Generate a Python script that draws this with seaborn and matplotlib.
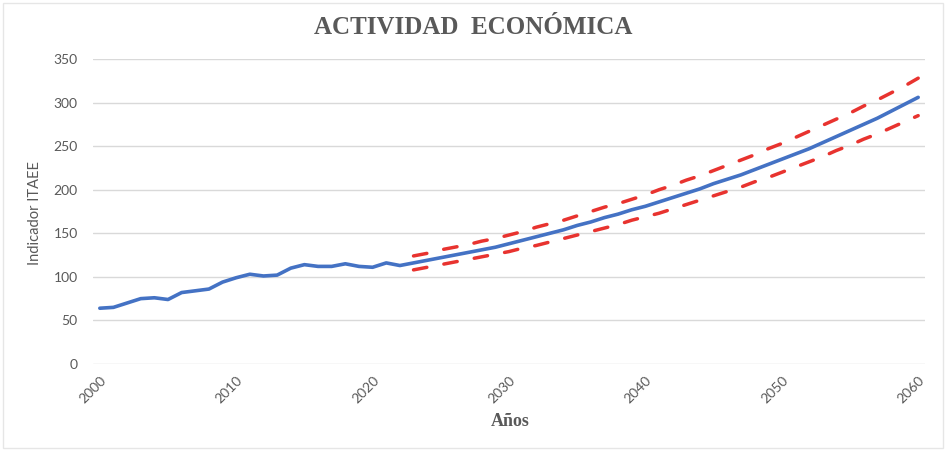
import seaborn as sns
import matplotlib.pyplot as plt
import pandas as pd
from matplotlib.patches import Rectangle

# ITAEE activity index: observed + projection, with upper/lower bands
years = list(range(2000, 2061))
itaee = [64, 65, 70, 75, 76, 74, 82, 84, 86, 94, 99, 103, 101, 102, 110, 114,
         112, 112, 115, 112, 111, 116, 113,
         116, 119, 122, 125, 128, 131, 134, 138, 142, 146, 150, 154, 159, 163,
         168, 172, 177, 181, 186, 191, 196, 201, 207, 212, 217, 223, 229, 235,
         241, 247, 254, 261, 268, 275, 282, 290, 298, 306]

band_years = list(range(2023, 2061))
upper = [124, 127, 131, 134, 137, 141, 144, 148, 152, 157, 161, 165, 170, 175,
         180, 184, 189, 194, 200, 205, 211, 216, 222, 228, 234, 240, 247, 253,
         260, 267, 274, 281, 288, 296, 303, 311, 319, 328]
lower = [108, 111, 114, 117, 120, 123, 126, 129, 133, 136, 140, 144, 148, 152,
         156, 160, 165, 169, 173, 178, 183, 188, 193, 198, 203, 209, 214, 220,
         226, 232, 238, 245, 251, 258, 264, 271, 278, 285]

xticks = [2000, 2010, 2020, 2030, 2040, 2050, 2060]
yticks = [0, 50, 100, 150, 200, 250, 300, 350]

df = pd.DataFrame({"year": years, "itaee": itaee})
bands = pd.DataFrame({"year": band_years, "upper": upper, "lower": lower})

sns.set_style("white")
plt.rcParams["font.family"] = ["Lato", "DejaVu Sans"]

grey = "#595959"
blue = "#4472C4"
red = "#E8332F"

fig = plt.figure(figsize=(9.47, 4.51), dpi=100)
ax = fig.add_axes([93 / 947, 1 - 364 / 451, 832 / 947, 305 / 451])

dash = (0, (3.9, 5.0))
sns.lineplot(data=bands, x="year", y="upper", ax=ax, color=red, lw=2.5,
             linestyle=dash, dash_capstyle="round")
sns.lineplot(data=bands, x="year", y="lower", ax=ax, color=red, lw=2.5,
             linestyle=dash, dash_capstyle="round")
sns.lineplot(data=df, x="year", y="itaee", ax=ax, color=blue, lw=2.6,
             solid_capstyle="round")

ax.set_xlim(1999.5, 2060.5)
ax.set_ylim(0, 350)
ax.set_xticks(xticks)
ax.set_yticks(yticks)
ax.set_xticklabels([str(t) for t in xticks], rotation=45, ha="right",
                   va="top", rotation_mode="anchor")
ax.tick_params(axis="both", length=0, labelsize=10, labelcolor=grey)
ax.tick_params(axis="y", pad=11)
ax.tick_params(axis="x", pad=7)
ax.grid(axis="y", color="#D9D9D9", lw=1)
ax.set_axisbelow(True)
for s in ax.spines.values():
    s.set_visible(False)
ax.set_xlabel("")
ax.set_ylabel("")

fig.text(473 / 947, 1 - 28 / 451, "ACTIVIDAD  ECONÓMICA", ha="center",
         va="center", fontsize=18, fontweight="bold", color=grey,
         family="Liberation Serif")
fig.text(510 / 947, 1 - 422 / 451, "Años", ha="center", va="center",
         fontsize=13, fontweight="bold", color=grey, family="Liberation Serif")
fig.text(35 / 947, 1 - 213 / 451, "Indicador ITAEE", ha="center",
         va="center", rotation=90, fontsize=10.5, color=grey)

fig.patches.append(Rectangle((3 / 947, 3 / 451), 940 / 947, 445 / 451,
                             transform=fig.transFigure, fill=False,
                             ec="#E6E6E6", lw=1))

fig.savefig("out.png", dpi=100)
